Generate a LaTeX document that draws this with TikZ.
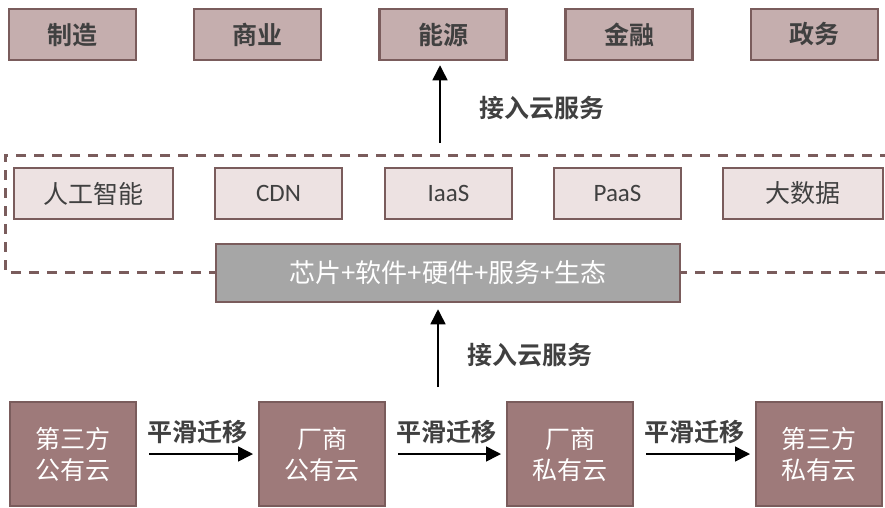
\documentclass[tikz,border=0pt]{standalone}
\usepackage{fontspec}
\setmainfont{Carlito}
\newfontfamily\cjk{Noto Sans CJK SC}[BoldFont={Noto Sans CJK SC Bold}]
\usetikzlibrary{arrows.meta}

\definecolor{borde}{HTML}{7A5C5C}
\definecolor{rosa}{HTML}{C5AEAE}
\definecolor{rosaclaro}{HTML}{EDE2E2}
\definecolor{granate}{HTML}{9E7A7A}
\definecolor{gris}{HTML}{A6A6A6}
\definecolor{texto}{HTML}{404040}

\tikzset{
    sector/.style={draw=borde, line width=2.5pt, fill=rosa, minimum width=127pt, minimum height=51pt,
        inner sep=0pt, text=texto, font=\cjk\bfseries\fontsize{25}{30}\selectfont},
    servicio/.style={draw=borde, line width=2pt, fill=rosaclaro, minimum height=51pt,
        inner sep=0pt, text=texto, font=\fontsize{25}{30}\selectfont},
    base/.style={draw=borde, line width=2.5pt, fill=gris, minimum width=464pt, minimum height=58pt,
        inner sep=0pt, text=white, font=\cjk\fontsize{26}{30}\selectfont},
    nube/.style={draw=borde, line width=2pt, fill=granate, minimum width=126pt, minimum height=104pt,
        inner sep=0pt, align=center, text=white, font=\cjk\fontsize{25}{31}\selectfont},
    flecha/.style={-{Triangle[length=15pt, width=15pt]}, line width=1.5pt, black},
    etiqueta/.style={text=texto, font=\cjk\bfseries\fontsize{25}{30}\selectfont}
}

\begin{document}
\begin{tikzpicture}[x=1pt, y=-1pt]
    \useasboundingbox (0,0) rectangle (885,507);

    % Sectores
    \node[sector] (zhizao) at (72.5,34.5) {制造};
    \node[sector] (shangye) at (257.5,34.5) {商业};
    \node[sector] (nengyuan) at (443,34.5) {能源};
    \node[sector] (jinrong) at (629,34.5) {金融};
    \node[sector] (zhengwu) at (814.5,34.5) {政务};

    % Marco discontinuo
    \draw[borde, line width=3pt, dash pattern=on 10pt off 8pt] (890,155) -- (5,155) -- (5,272) -- (890,272);

    % Servicios
    \node[servicio, minimum width=159pt, font=\cjk\fontsize{25}{30}\selectfont] (ai) at (93.5,193.5) {人工智能};
    \node[servicio, minimum width=127pt] (cdn) at (278.5,193.5) {CDN};
    \node[servicio, minimum width=127pt] (iaas) at (448.5,193.5) {IaaS};
    \node[servicio, minimum width=127pt] (paas) at (617.5,193.5) {PaaS};
    \node[servicio, minimum width=160pt, font=\cjk\fontsize{25}{30}\selectfont] (bigdata) at (803,193.5) {大数据};

    \node[base] (chip) at (448,273) {芯片+软件+硬件+服务+生态};

    % Nubes
    \node[nube] (nube1) at (73,454) {第三方\\公有云};
    \node[nube] (nube2) at (322,454) {厂商\\公有云};
    \node[nube] (nube3) at (570,454) {厂商\\私有云};
    \node[nube] (nube4) at (819,454) {第三方\\私有云};

    % Flechas verticales
    \coordinate (arriba) at (440,143);
    \draw[flecha, shorten >=4pt] (arriba) -- (arriba |- nengyuan.south);
    \node[etiqueta] (acceso1) at (542,108) {接入云服务};

    \coordinate (abajo) at (438,387);
    \draw[flecha, shorten >=6pt] (abajo) -- (abajo |- chip.south);
    \node[etiqueta] (acceso2) at (530,355) {接入云服务};

    % Migraciones
    \foreach \a/\b in {nube1/nube2, nube2/nube3, nube3/nube4} {
        \draw[flecha, shorten <=12pt, shorten >=5pt] (\a.east) -- (\b.west)
            node[midway, above=6pt, etiqueta] {平滑迁移};
    }
\end{tikzpicture}
\end{document}
